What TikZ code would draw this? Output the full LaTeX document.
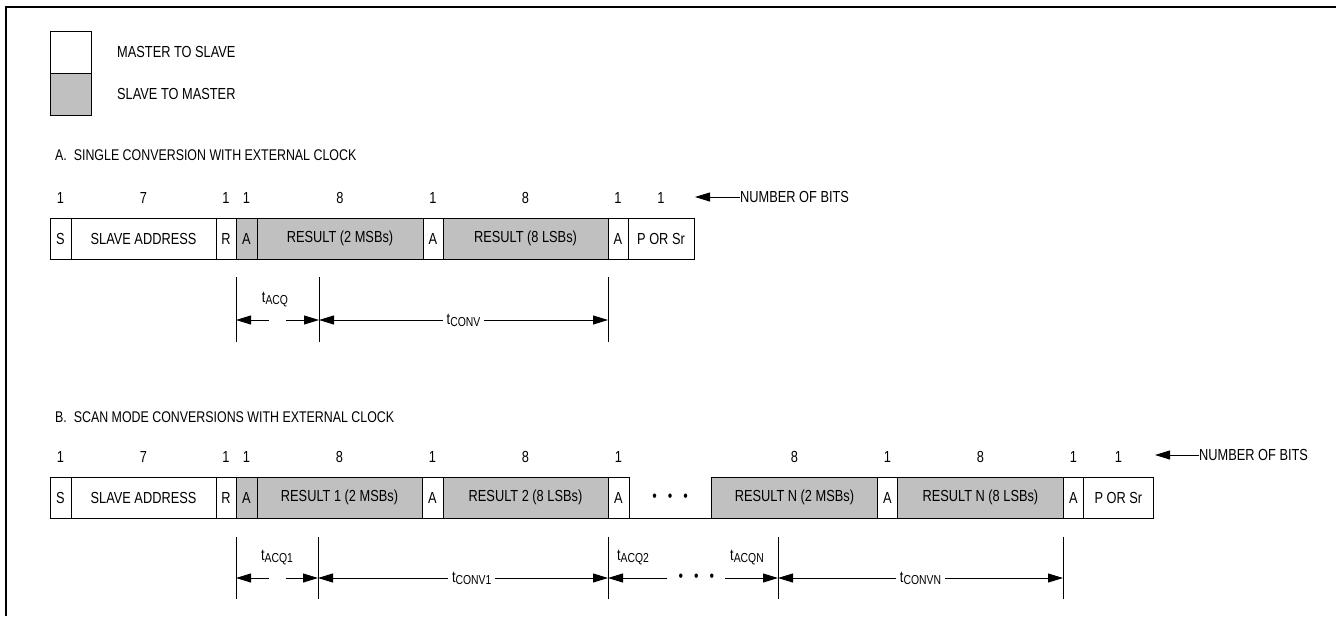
\documentclass[tikz,border=0pt]{standalone}
\usepackage{fontspec}
\setmainfont{Liberation Sans}[FakeStretch=0.80]
\usetikzlibrary{arrows.meta, positioning, calc}
\definecolor{BoxGray}{RGB}{192,192,192}
\newcommand{\tsub}[1]{\raisebox{-2pt}{\fontsize{13}{14}\selectfont #1}}

\begin{document}
\begin{tikzpicture}[x=1pt, y=-1pt,
    every node/.style={font=\fontsize{16}{18}\selectfont, inner sep=0pt},
    field/.style={draw, line width=1pt, outer sep=0pt, minimum height=41pt},
    slv/.style={field, fill=BoxGray},
    bits/.style={label={[label distance=14pt]above:#1}},
    head/.style={font=\fontsize{15.5}{17}\selectfont, anchor=west},
    tick/.style={line width=1pt},
    dim/.style={line width=1pt, -{Triangle[length=15pt,width=9pt]}},
    dimboth/.style={line width=1pt, {Triangle[length=15pt,width=9pt]}-{Triangle[length=15pt,width=9pt]}}]
    \useasboundingbox (0,0) rectangle (1336,616);

    % Frame
    \draw[line width=2pt] (6,616) -- (6,7) -- (1336,7);

    % Key
    \node[field, minimum width=41pt, minimum height=42pt] (keyM) at (70.5,52) {};
    \node[field, fill=BoxGray, minimum width=41pt, minimum height=42pt, below=0pt of keyM] (keyS) {};
    \node[anchor=west, right=26pt of keyM] (keyMtxt) {MASTER TO SLAVE};
    \node[anchor=west, right=26pt of keyS] (keyStxt) {SLAVE TO MASTER};

    % A. Single conversion
    \node[head] (headA) at (55,155) {A.\ \ SINGLE CONVERSION WITH EXTERNAL CLOCK};
    \node[field, bits=1, minimum width=21pt, anchor=west] (sA) at (50,238.5) {S};
    \node[field, bits=7, minimum width=145pt, right=0pt of sA] (adrA) {SLAVE ADDRESS};
    \node[field, bits=1, minimum width=20pt, right=0pt of adrA] (rA) {R};
    \node[slv, bits=1, minimum width=21pt, right=0pt of rA] (aA1) {A};
    \node[slv, bits=8, minimum width=166pt, right=0pt of aA1] (msbA) {RESULT (2 MSBs)};
    \node[field, bits=1, minimum width=20pt, right=0pt of msbA] (aA2) {A};
    \node[slv, bits=8, minimum width=165pt, right=0pt of aA2] (lsbA) {RESULT (8 LSBs)};
    \node[field, bits=1, minimum width=20pt, right=0pt of lsbA] (aA3) {A};
    \node[field, bits=1, minimum width=66pt, right=0pt of aA3] (pA) {P OR Sr};
    \node[anchor=west] (nbA) at (740,197) {NUMBER OF BITS};
    \coordinate (nbAtip) at (695,197);
    \draw[dim] (nbA.west) -- (nbAtip);

    % Timing A
    \foreach \x/\n in {236/1, 319/2, 608/3} {
        \draw[tick] (\x,277) -- (\x,342);
        \coordinate (tA\n) at (\x,320);
    }
    \coordinate (gA) at ($(tA1)!0.5!(tA2)$);
    \draw[dim, shorten <=8.5pt] (gA) -- (tA1);
    \draw[dim, shorten <=8.5pt] (gA) -- (tA2);
    \node (acqA) at (275,300) {t\tsub{ACQ}};
    \draw[dimboth] (tA2) -- (tA3) node[midway, fill=white, inner xsep=4pt, inner ysep=2pt] (convA) {t\tsub{CONV}};

    % B. Scan mode
    \node[head] (headB) at (55,417) {B.\ \ SCAN MODE CONVERSIONS WITH EXTERNAL CLOCK};
    \node[field, bits=1, minimum width=21pt, anchor=west] (sB) at (50,497.5) {S};
    \node[field, bits=7, minimum width=145pt, right=0pt of sB] (adrB) {SLAVE ADDRESS};
    \node[field, bits=1, minimum width=20pt, right=0pt of adrB] (rB) {R};
    \node[slv, bits=1, minimum width=21pt, right=0pt of rB] (aB1) {A};
    \node[slv, bits=8, minimum width=165pt, right=0pt of aB1] (msbB1) {RESULT 1 (2 MSBs)};
    \node[field, bits=1, minimum width=21pt, right=0pt of msbB1] (aB2) {A};
    \node[slv, bits=8, minimum width=165pt, right=0pt of aB2] (lsbB2) {RESULT 2 (8 LSBs)};
    \node[field, bits=1, minimum width=21pt, right=0pt of lsbB2] (aB3) {A};
    \node[minimum width=82pt, minimum height=41pt, right=0pt of aB3] (gapB) {\textbullet\hspace{11pt}\textbullet\hspace{11pt}\textbullet};
    \draw[line width=1pt] (gapB.south west) -- (gapB.south east);
    \node[slv, bits=8, minimum width=166pt, right=0pt of gapB] (msbBN) {RESULT N (2 MSBs)};
    \node[field, bits=1, minimum width=20pt, right=0pt of msbBN] (aB4) {A};
    \node[slv, bits=8, minimum width=166pt, right=0pt of aB4] (lsbBN) {RESULT N (8 LSBs)};
    \node[field, bits=1, minimum width=20pt, right=0pt of lsbBN] (aB5) {A};
    \node[field, bits=1, minimum width=70pt, right=0pt of aB5] (pB) {P OR Sr};
    \node[anchor=west] (nbB) at (1199,455) {NUMBER OF BITS};
    \coordinate (nbBtip) at (1155,455);
    \draw[dim] (nbB.west) -- (nbBtip);

    % Timing B
    \foreach \x/\n in {236/1, 318/2, 608/3, 778/4, 1063/5} {
        \draw[tick] (\x,537) -- (\x,599);
        \coordinate (tB\n) at (\x,578);
    }
    \coordinate (gB) at ($(tB1)!0.5!(tB2)$);
    \draw[dim, shorten <=8.5pt] (gB) -- (tB1);
    \draw[dim, shorten <=8.5pt] (gB) -- (tB2);
    \node (acqB1) at (277,558) {t\tsub{ACQ1}};
    \draw[dimboth] (tB2) -- (tB3) node[pos=0.53, fill=white, inner xsep=4pt, inner ysep=2pt] (convB1) {t\tsub{CONV1}};
    \node[inner xsep=11pt] (dotsB) at ($(tB3)!0.52!(tB4)$) {\textbullet\hspace{11pt}\textbullet\hspace{11pt}\textbullet};
    \draw[dim] (dotsB.west) -- (tB3);
    \draw[dim] (dotsB.east) -- (tB4);
    \node (acqB2) at (633,558) {t\tsub{ACQ2}};
    \node (acqBN) at (747,558) {t\tsub{ACQN}};
    \draw[dimboth] (tB4) -- (tB5) node[midway, fill=white, inner xsep=4pt, inner ysep=2pt] (convBN) {t\tsub{CONVN}};
\end{tikzpicture}
\end{document}
